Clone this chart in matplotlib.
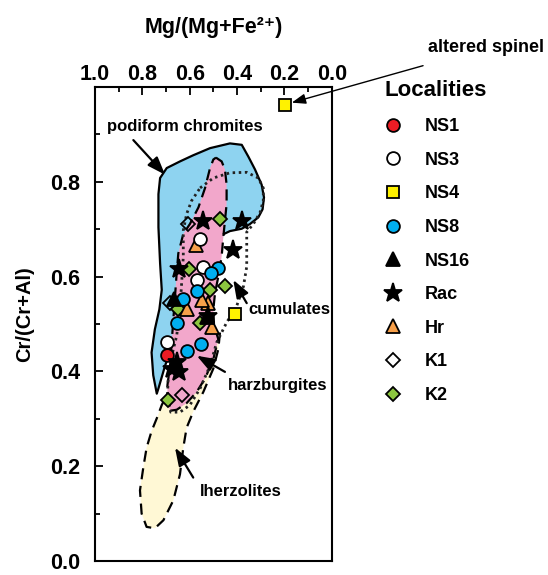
import matplotlib
matplotlib.use("Agg")
import matplotlib.pyplot as plt
from matplotlib.patches import Polygon

plt.rcParams["font.family"] = ["Liberation Sans", "DejaVu Sans"]
plt.rcParams["font.weight"] = "bold"
plt.rcParams["axes.labelweight"] = "bold"

# --- localities: Mg/(Mg+Fe2+) and Cr/(Cr+Al) ---
ns1_x = [0.695]
ns1_y = [0.435]
ns3_x = [0.556, 0.542, 0.570, 0.695]
ns3_y = [0.680, 0.621, 0.593, 0.461]
ns4_x = [0.197, 0.408]
ns4_y = [0.963, 0.522]
ns8_x = [0.479, 0.511, 0.568, 0.630, 0.652, 0.610, 0.552]
ns8_y = [0.619, 0.607, 0.570, 0.553, 0.503, 0.444, 0.458]
ns16_x = [0.528, 0.665]
ns16_y = [0.515, 0.552]
rac_x = [0.542, 0.380, 0.418, 0.644, 0.521, 0.655, 0.675, 0.645]
rac_y = [0.717, 0.717, 0.657, 0.615, 0.517, 0.420, 0.405, 0.398]
hr_x = [0.573, 0.507, 0.521, 0.549, 0.613]
hr_y = [0.666, 0.494, 0.544, 0.551, 0.531]
k1_x = [0.606, 0.683, 0.634]
k1_y = [0.711, 0.544, 0.350]
k2_x = [0.472, 0.603, 0.451, 0.514, 0.648, 0.556, 0.690]
k2_y = [0.722, 0.615, 0.581, 0.572, 0.531, 0.503, 0.340]

# --- reference fields ---
chromite_x = [0.680, 0.704, 0.732, 0.739, 0.754, 0.761, 0.747, 0.728, 0.718, 0.725,
              0.732, 0.732, 0.725, 0.697, 0.641, 0.585, 0.514, 0.430, 0.380, 0.352,
              0.324, 0.296, 0.286, 0.292, 0.310, 0.345, 0.380, 0.430, 0.455]
chromite_y = [0.445, 0.412, 0.364, 0.353, 0.392, 0.440, 0.489, 0.531, 0.572, 0.628,
              0.704, 0.774, 0.808, 0.829, 0.843, 0.856, 0.871, 0.881, 0.878, 0.853,
              0.826, 0.794, 0.767, 0.742, 0.725, 0.711, 0.701, 0.696, 0.690]
chromite_hidden_x = [0.500, 0.560, 0.640]
chromite_hidden_y = [0.600, 0.470, 0.420]

harz_x = [0.489, 0.465, 0.451, 0.444, 0.444, 0.451, 0.458, 0.465, 0.479, 0.493,
          0.500, 0.497, 0.479, 0.500, 0.535, 0.570, 0.613, 0.655, 0.683, 0.694,
          0.694, 0.683, 0.676, 0.669, 0.662, 0.655, 0.648, 0.627, 0.599, 0.563,
          0.535, 0.514, 0.500]
harz_y = [0.851, 0.843, 0.826, 0.794, 0.753, 0.718, 0.683, 0.642, 0.600, 0.565,
          0.531, 0.496, 0.468, 0.426, 0.385, 0.357, 0.333, 0.319, 0.317, 0.336,
          0.371, 0.412, 0.461, 0.510, 0.558, 0.607, 0.649, 0.690, 0.711, 0.746,
          0.787, 0.829, 0.847]

lherz_x = [0.472, 0.479, 0.500, 0.542, 0.585, 0.613, 0.627, 0.641, 0.669, 0.711,
           0.747, 0.782, 0.803, 0.810, 0.796, 0.782, 0.761, 0.739, 0.718, 0.697]
lherz_y = [0.482, 0.447, 0.406, 0.357, 0.315, 0.281, 0.239, 0.183, 0.128, 0.086,
           0.069, 0.072, 0.100, 0.149, 0.197, 0.239, 0.274, 0.301, 0.329, 0.350]
lherz_hidden_x = [0.640, 0.520]
lherz_hidden_y = [0.400, 0.470]

cum_x = [0.556, 0.500, 0.430, 0.359, 0.310, 0.289, 0.289, 0.303, 0.331, 0.359,
         0.359, 0.359, 0.373, 0.402, 0.444, 0.486, 0.514, 0.556, 0.599, 0.641,
         0.680, 0.694, 0.690, 0.676, 0.655, 0.641, 0.634, 0.627, 0.627, 0.613, 0.592]
cum_y = [0.787, 0.808, 0.819, 0.820, 0.808, 0.787, 0.760, 0.735, 0.711, 0.694,
         0.656, 0.621, 0.579, 0.537, 0.503, 0.461, 0.412, 0.364, 0.329, 0.314,
         0.314, 0.350, 0.392, 0.433, 0.475, 0.531, 0.586, 0.642, 0.697, 0.732, 0.760]

fig = plt.figure(figsize=(5.48, 5.75), dpi=100)
ax = fig.add_axes([95 / 548, 14 / 575, 236.7 / 548, 474 / 575])
ax.set_xlim(1.0, 0.0)
ax.set_ylim(0.0, 1.0)

# fields
ax.add_patch(Polygon(list(zip(lherz_x + lherz_hidden_x, lherz_y + lherz_hidden_y)),
                     closed=True, fc="#FFF8D5", ec="none", zorder=1))
ax.add_patch(Polygon(list(zip(chromite_x + chromite_hidden_x, chromite_y + chromite_hidden_y)),
                     closed=True, fc="#8ED3F0", ec="none", zorder=1.5))
ax.add_patch(Polygon(list(zip(harz_x, harz_y)), closed=True, fc="#F2A7CB",
                     ec="black", lw=1.6, ls=(0, (5, 3)), zorder=2))
ax.plot(lherz_x, lherz_y, color="black", lw=1.6, ls=(0, (5, 3)), zorder=2.5)
ax.plot(chromite_x, chromite_y, color="black", lw=1.6, zorder=2.5)
ax.plot(cum_x + cum_x[:1], cum_y + cum_y[:1], color="#222222", lw=2.0,
        ls=(0, (0.9, 1.3)), zorder=3)

# localities
mk = dict(ls="none", mec="black", mew=1.3, zorder=5)
h_k1, = ax.plot(k1_x, k1_y, marker="D", ms=7.4, mfc="none", label="K1", **mk)
h_k2, = ax.plot(k2_x, k2_y, marker="D", ms=7.4, mfc="#8CC63F", label="K2", **mk)
h_hr, = ax.plot(hr_x, hr_y, marker="^", ms=9.5, mfc="#F7A04A", label="Hr", **mk)
h_ns1, = ax.plot(ns1_x, ns1_y, marker="o", ms=9.2, mfc="#ED1C24", label="NS1", **mk)
h_ns3, = ax.plot(ns3_x, ns3_y, marker="o", ms=9.2, mfc="white", label="NS3", **mk)
h_ns8, = ax.plot(ns8_x, ns8_y, marker="o", ms=9.2, mfc="#00AEEF", label="NS8", **mk)
h_ns16, = ax.plot(ns16_x, ns16_y, marker="^", ms=9.5, mfc="black", label="NS16", **mk)
h_rac, = ax.plot(rac_x, rac_y, marker="*", ms=14, mfc="black", label="Rac", **mk)
h_ns4, = ax.plot(ns4_x, ns4_y, marker="s", ms=8.5, mfc="#FFF200", label="NS4", **mk)
h_ns4.set_clip_on(False)

# labels + arrows
arrow = dict(arrowstyle="-|>,head_length=0.6,head_width=0.22", color="black",
             lw=1.6, mutation_scale=18, shrinkA=0, shrinkB=0)
lab = dict(fontsize=12, fontweight="bold", ha="left", va="center", zorder=6)
ax.text(0.949, 0.917, "podiform chromites", **lab)
ax.annotate("", xy=(0.704, 0.815), xytext=(0.838, 0.888), arrowprops=arrow, zorder=6)
ax.text(0.353, 0.531, "cumulates", **lab)
ax.annotate("", xy=(0.416, 0.593), xytext=(0.359, 0.544), arrowprops=arrow, zorder=6)
ax.text(0.438, 0.371, "harzburgites", **lab)
ax.annotate("", xy=(0.570, 0.433), xytext=(0.451, 0.399), arrowprops=arrow, zorder=6)
ax.text(0.556, 0.146, "lherzolites", **lab)
ax.annotate("", xy=(0.662, 0.239), xytext=(0.585, 0.176), arrowprops=arrow, zorder=6)

thin = dict(arrowstyle="-|>,head_length=0.6,head_width=0.22", color="black",
            lw=1.0, mutation_scale=14, shrinkA=0, shrinkB=5)
ax.annotate("", xy=(0.197, 0.963), xytext=(-0.386, 1.045), arrowprops=thin,
            annotation_clip=False, zorder=6)
fig.text(428 / 548, 1 - 48 / 575, "altered spinel", fontsize=13, fontweight="bold",
         ha="left", va="center")

# axes styling
ax.xaxis.tick_top()
ax.set_xticks([1.0, 0.8, 0.6, 0.4, 0.2, 0.0])
ax.set_xticks([0.9, 0.7, 0.5, 0.3, 0.1], minor=True)
ax.set_yticks([0.0, 0.2, 0.4, 0.6, 0.8])
ax.set_yticks([0.1, 0.3, 0.5, 0.7, 0.9], minor=True)
ax.tick_params(which="both", direction="in", width=1.3, top=True, bottom=False,
               right=False, labeltop=True, labelbottom=False, labelsize=15.5)
ax.tick_params(which="major", length=5.5)
ax.tick_params(which="minor", length=3.5)
ax.tick_params(axis="x", pad=1.5)
ax.tick_params(axis="y", pad=10.5)
for s in ax.spines.values():
    s.set_linewidth(1.5)

ax.xaxis.set_label_position("top")
ax.set_xlabel("Mg/(Mg+Fe²⁺)", fontsize=15.5, fontweight="bold")
ax.xaxis.set_label_coords(0.5, 1.126)
ax.xaxis.label.set_va("center")
ax.set_ylabel("Cr/(Cr+Al)", fontsize=14.5, fontweight="bold")
ax.yaxis.set_label_coords(-0.296, 0.52)
ax.yaxis.label.set_va("center")

handles = [h_ns1, h_ns3, h_ns4, h_ns8, h_ns16, h_rac, h_hr, h_k1, h_k2]
leg = fig.legend(handles=handles, loc="upper left", bbox_to_anchor=(385 / 548, 1 - 80.5 / 575),
                 frameon=False, borderpad=0, borderaxespad=0, handlelength=0.85,
                 handletextpad=1.36, labelspacing=0.92, title="Localities",
                 prop=dict(family="Liberation Sans", weight="bold", size=13),
                 title_fontproperties=dict(family="Liberation Sans", weight="bold", size=16),
                 alignment="left")

fig.savefig("out.png", dpi=100)
